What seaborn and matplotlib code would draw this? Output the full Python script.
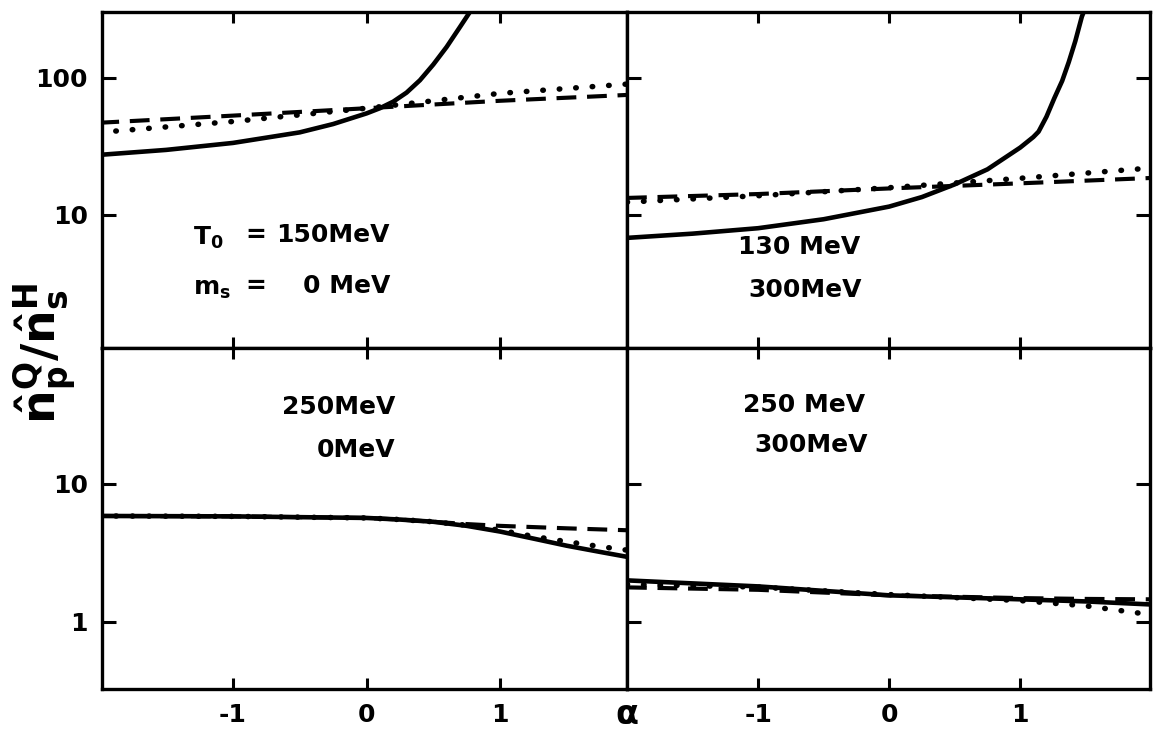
import matplotlib
matplotlib.use('Agg')
import matplotlib.pyplot as plt
from matplotlib import font_manager
import seaborn as sns

# ---------------- data ----------------
# top-left: T0 = 150 MeV, ms = 0 MeV
tl_solid_x = [-2.0, -1.5, -1.0, -0.5, -0.25, 0.0, 0.1, 0.2, 0.3, 0.4, 0.5, 0.6, 0.7, 0.8]
tl_solid_y = [27.4, 29.8, 33.5, 40.0, 46.0, 55.0, 60.0, 67.0, 78.0, 96.0, 125.0, 168.0, 235.0, 330.0]
tl_dash_x = [-2.0, -1.0, 0.0, 1.0, 1.95]
tl_dash_y = [47.0, 53.0, 60.0, 68.0, 75.0]
tl_dot_x = [-2.0, -1.0, 0.0, 1.0, 1.95]
tl_dot_y = [40.0, 48.0, 60.0, 77.0, 90.0]

# top-right: 130 MeV, 300 MeV
tr_solid_x = [-2.0, -1.5, -1.0, -0.5, 0.0, 0.25, 0.5, 0.75, 1.0, 1.1, 1.14, 1.2, 1.26, 1.32, 1.37, 1.42, 1.47, 1.51]
tr_solid_y = [6.8, 7.3, 8.0, 9.3, 11.5, 13.5, 16.7, 21.5, 31.0, 37.0, 40.5, 52.0, 71.0, 95.0, 130.0, 185.0, 279.0, 350.0]
tr_dash_x = [-2.0, -1.0, 0.0, 1.0, 2.0]
tr_dash_y = [13.3, 14.2, 15.6, 17.0, 18.6]
tr_dot_x = [-2.0, -1.0, 0.0, 1.0, 2.0]
tr_dot_y = [12.4, 13.8, 15.8, 18.5, 22.0]

# bottom-left: 250 MeV, 0 MeV
bl_solid_x = [-2.0, -1.0, 0.0, 0.25, 0.5, 0.75, 1.0, 1.25, 1.5, 1.75, 1.95]
bl_solid_y = [5.84, 5.80, 5.65, 5.50, 5.30, 4.95, 4.50, 4.00, 3.55, 3.20, 2.95]
bl_dash_x = [-2.0, -1.0, 0.0, 0.25, 0.5, 0.75, 1.0, 1.5, 1.95]
bl_dash_y = [5.84, 5.80, 5.65, 5.50, 5.30, 5.10, 4.95, 4.75, 4.60]
bl_dot_x = [-2.0, -1.0, 0.0, 0.25, 0.5, 0.75, 1.0, 1.25, 1.5, 1.75, 1.95]
bl_dot_y = [5.84, 5.80, 5.65, 5.50, 5.30, 5.00, 4.60, 4.15, 3.80, 3.50, 3.30]

# bottom-right: 250 MeV, 300 MeV
br_solid_x = [-2.0, -1.0, 0.0, 1.0, 1.5, 2.0]
br_solid_y = [1.99, 1.80, 1.55, 1.45, 1.40, 1.33]
br_dash_x = [-2.0, -1.0, 0.0, 1.0, 1.5, 2.0]
br_dash_y = [1.77, 1.70, 1.55, 1.48, 1.46, 1.45]
br_dot_x = [-2.0, -1.0, 0.0, 1.0, 1.5, 2.0]
br_dot_y = [1.86, 1.78, 1.57, 1.42, 1.30, 1.12]

x_ticks = [-1, 0, 1]
x_ticklabels = ['-1', '0', '1']
top_yticks = [10, 100]
top_yticklabels = ['10', '100']
bot_yticks = [1, 10]
bot_yticklabels = ['1', '10']

# ---------------- style ----------------
sns.set_theme(style='white')
avail = {f.name for f in font_manager.fontManager.ttflist}
fam = 'Liberation Sans Narrow' if 'Liberation Sans Narrow' in avail else 'DejaVu Sans'
plt.rcParams['font.family'] = [fam, 'DejaVu Sans']
plt.rcParams['font.weight'] = 'bold'
plt.rcParams['mathtext.fontset'] = 'custom'
plt.rcParams['mathtext.rm'] = 'DejaVu Sans:bold'
plt.rcParams['mathtext.it'] = 'DejaVu Sans:bold'
plt.rcParams['mathtext.bf'] = 'DejaVu Sans:bold'

fig = plt.figure(figsize=(11.57, 7.33), dpi=100)
W, H = 1157.0, 733.0
L, M, R = 102 / W, 627 / W, 1150 / W
T, Mid, B = 1 - 12 / H, 1 - 348 / H, 1 - 689 / H

ax_tl = fig.add_axes([L, Mid, M - L, T - Mid])
ax_tr = fig.add_axes([M, Mid, R - M, T - Mid])
ax_bl = fig.add_axes([L, B, M - L, Mid - B])
ax_br = fig.add_axes([M, B, R - M, Mid - B])

LW = 3.3
dash_style = (0, (4.8, 2.6))
dot_style = (0, (0.1, 2.9))


def draw(ax, sx, sy, dx, dy, ox, oy):
    sns.lineplot(x=sx, y=sy, ax=ax, color='black', lw=LW, linestyle='-',
                 solid_capstyle='round', solid_joinstyle='round')
    sns.lineplot(x=dx, y=dy, ax=ax, color='black', lw=LW * 0.9, linestyle=dash_style)
    sns.lineplot(x=ox, y=oy, ax=ax, color='black', lw=LW * 1.2, linestyle=dot_style,
                 dash_capstyle='round')


draw(ax_tl, tl_solid_x, tl_solid_y, tl_dash_x, tl_dash_y, tl_dot_x, tl_dot_y)
draw(ax_tr, tr_solid_x, tr_solid_y, tr_dash_x, tr_dash_y, tr_dot_x, tr_dot_y)
draw(ax_bl, bl_solid_x, bl_solid_y, bl_dash_x, bl_dash_y, bl_dot_x, bl_dot_y)
draw(ax_br, br_solid_x, br_solid_y, br_dash_x, br_dash_y, br_dot_x, br_dot_y)

TICKFS = 22 if fam != 'DejaVu Sans' else 18

for ax in (ax_tl, ax_tr, ax_bl, ax_br):
    ax.set_yscale('log')
    ax.minorticks_off()
    ax.set_xticks(x_ticks)
    for s in ax.spines.values():
        s.set_linewidth(2.4)
        s.set_color('black')
        s.set_visible(True)
    ax.tick_params(axis='x', which='major', direction='in', length=8, width=2.2,
                   top=True, bottom=True, labelsize=TICKFS, pad=10, colors='black')
    ax.tick_params(axis='y', which='major', direction='in', length=10, width=2.2,
                   labelsize=TICKFS, pad=10, colors='black')
    ax.set_xlabel('')
    ax.set_ylabel('')
    ax.set_facecolor('white')
    ax.grid(False)

for ax in (ax_tl, ax_bl):
    ax.set_xlim(-1.98, 1.95)
    ax.tick_params(axis='y', left=True, right=False)
for ax in (ax_tr, ax_br):
    ax.set_xlim(-2.0, 1.99)
    ax.tick_params(axis='y', left=True, right=True, labelleft=False)

for ax in (ax_tl, ax_tr):
    ax.set_ylim(1.07, 302)
    ax.set_yticks(top_yticks)
    ax.tick_params(axis='x', labelbottom=False)
for ax in (ax_bl, ax_br):
    ax.set_ylim(0.324, 96.7)
    ax.set_yticks(bot_yticks)
    ax.set_xticklabels(x_ticklabels)
ax_tl.set_yticklabels(top_yticklabels)
ax_bl.set_yticklabels(bot_yticklabels)
for ax in (ax_tl, ax_tr, ax_bl, ax_br):
    ax.minorticks_off()

TXT = 22 if fam != 'DejaVu Sans' else 18


def ftxt(px, py, s, ha='left', size=TXT):
    fig.text(px / W, 1 - py / H, s, ha=ha, va='center', fontsize=size,
             fontweight='bold', color='black')


# annotations
ftxt(193, 238, r'$T_0$', ha='left')
ftxt(256, 235, '=', ha='center')
ftxt(390, 235, '150MeV', ha='right')
ftxt(193, 289, r'$m_s$', ha='left')
ftxt(256, 286, '=', ha='center')
ftxt(390, 286, '0 MeV', ha='right')

ftxt(860, 247, '130 MeV', ha='right')
ftxt(862, 290, '300MeV', ha='right')

ftxt(395, 407, '250MeV', ha='right')
ftxt(395, 450, '0MeV', ha='right')

ftxt(865, 405, '250 MeV', ha='right')
ftxt(868, 445, '300MeV', ha='right')

# axis labels
fig.text(627 / W, 1 - 714 / H, 'α', ha='center', va='center', fontsize=24,
         fontweight='bold', color='black')
fig.text(45 / W, 1 - 353 / H, r'$\hat{n}_p^Q/\hat{n}_s^H$', rotation=90,
         ha='center', va='center', fontsize=34, color='black')

fig.savefig('out.png', dpi=100, facecolor='white')
